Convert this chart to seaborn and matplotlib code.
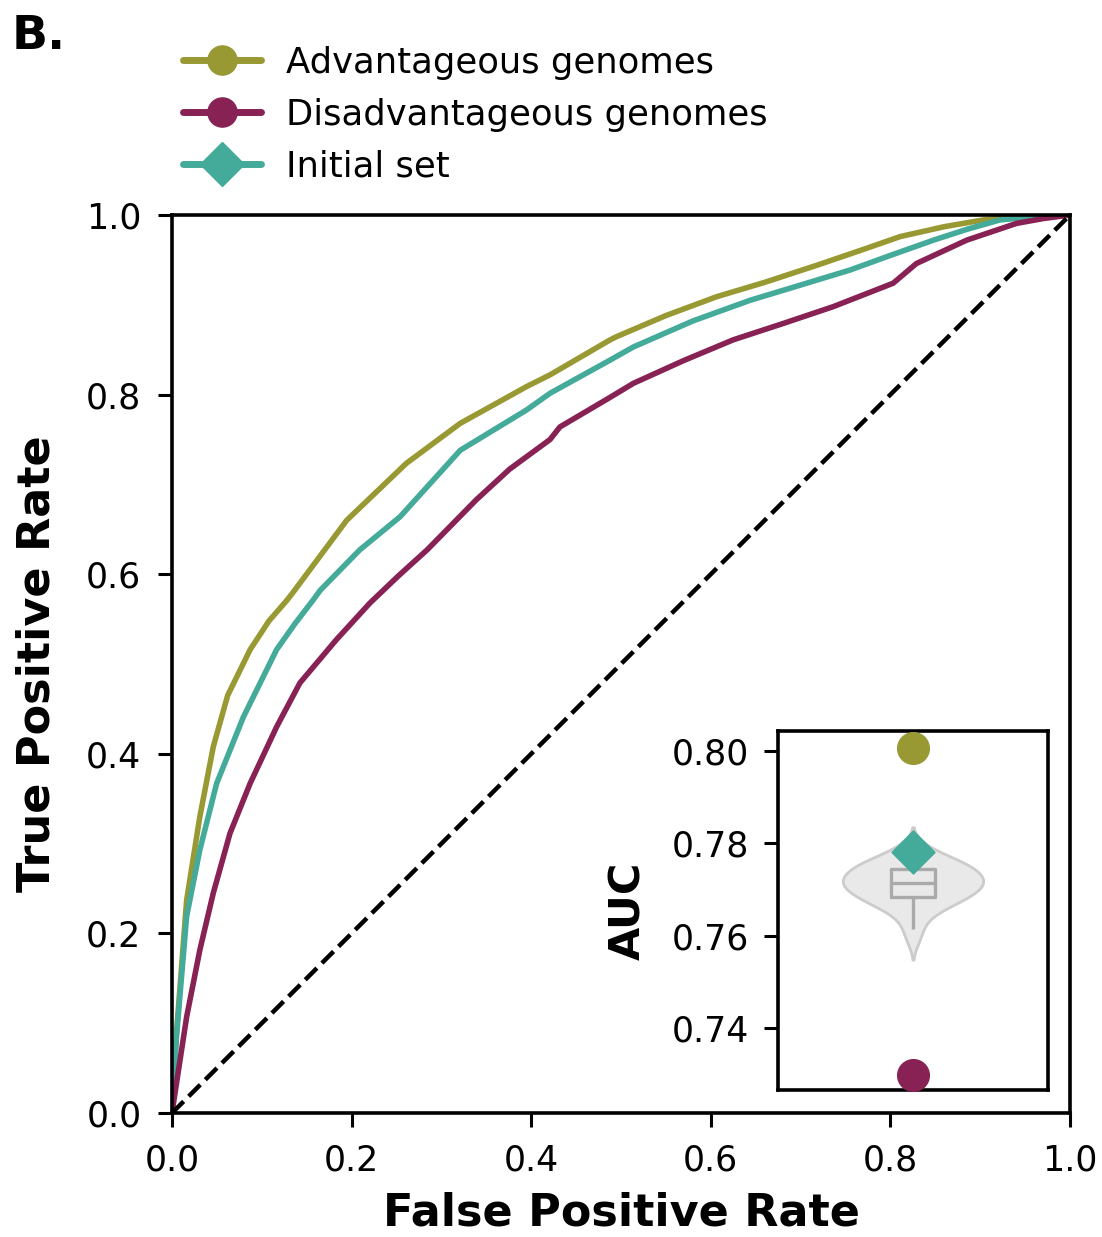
import matplotlib
matplotlib.use('Agg')
import matplotlib.pyplot as plt
from matplotlib.lines import Line2D
import seaborn as sns

# ROC curves
adv_fpr = [0.0, 0.005, 0.0163, 0.031, 0.046, 0.062, 0.087, 0.108, 0.128, 0.135, 0.1945, 0.261, 0.321, 0.395,
           0.421, 0.488, 0.495, 0.55, 0.6065, 0.66, 0.718, 0.765, 0.811, 0.86, 0.9035, 0.95, 1.0]
adv_tpr = [0.0, 0.089, 0.237, 0.330, 0.408, 0.465, 0.516, 0.548, 0.571, 0.580, 0.660, 0.7235, 0.768, 0.809,
           0.822, 0.861, 0.8645, 0.888, 0.909, 0.925, 0.944, 0.960, 0.976, 0.987, 0.9945, 0.999, 1.0]

init_fpr = [0.0, 0.005, 0.0163, 0.031, 0.0497, 0.0795, 0.1165, 0.137, 0.157, 0.165, 0.209, 0.254, 0.321,
            0.395, 0.421, 0.488, 0.5137, 0.58, 0.6437, 0.70, 0.755, 0.80, 0.848, 0.885, 0.922, 0.96, 1.0]
init_tpr = [0.0, 0.085, 0.219, 0.293, 0.367, 0.441, 0.516, 0.545, 0.571, 0.582, 0.627, 0.664, 0.738,
            0.783, 0.8015, 0.8385, 0.853, 0.882, 0.905, 0.922, 0.9387, 0.955, 0.972, 0.984, 0.9945, 0.998, 1.0]

dis_fpr = [0.0, 0.005, 0.0163, 0.031, 0.046, 0.0646, 0.087, 0.1165, 0.1425, 0.183, 0.2205, 0.252, 0.284,
           0.339, 0.376, 0.421, 0.432, 0.488, 0.5137, 0.57, 0.625, 0.68, 0.7365, 0.803, 0.829, 0.885,
           0.9406, 0.97, 1.0]
dis_tpr = [0.0, 0.033, 0.107, 0.1815, 0.245, 0.3115, 0.367, 0.430, 0.479, 0.527, 0.568, 0.598, 0.627,
           0.683, 0.717, 0.750, 0.764, 0.797, 0.8125, 0.838, 0.861, 0.879, 0.898, 0.924, 0.946, 0.972,
           0.9907, 0.996, 1.0]

# AUC values for the inset
auc_adv = 0.8007
auc_dis = 0.7298
auc_init = 0.7782
auc_random = [0.7591, 0.7615, 0.7635, 0.7648, 0.7658, 0.7665, 0.7670, 0.7674, 0.7678, 0.7681,
              0.7684, 0.7688, 0.7692, 0.7696, 0.7699, 0.7702, 0.7705, 0.7708, 0.7711, 0.7713,
              0.7715, 0.7718, 0.7720, 0.7723, 0.7726, 0.7729, 0.7732, 0.7736, 0.7739, 0.7743,
              0.7746, 0.7749, 0.7752, 0.7755, 0.7758, 0.7761, 0.7766, 0.7772, 0.7782, 0.7792]

labels = ['Advantageous genomes', 'Disadvantageous genomes', 'Initial set']
c_adv, c_dis, c_init = '#999933', '#882255', '#44AA99'

sns.set_style('ticks')
plt.rcParams['font.family'] = ['DejaVu Sans']
plt.rcParams.update({'text.color': 'black', 'axes.labelcolor': 'black',
                     'xtick.color': 'black', 'ytick.color': 'black', 'axes.edgecolor': 'black'})

fig = plt.figure(figsize=(11.02, 12.37), dpi=100)
ax = fig.add_axes([172 / 1102, 124 / 1237, 898 / 1102, 898 / 1237])

sns.lineplot(x=adv_fpr, y=adv_tpr, color=c_adv, linewidth=4, estimator=None, ax=ax)
sns.lineplot(x=init_fpr, y=init_tpr, color=c_init, linewidth=4, estimator=None, ax=ax)
sns.lineplot(x=dis_fpr, y=dis_tpr, color=c_dis, linewidth=4, estimator=None, ax=ax)
ax.plot([0, 1], [0, 1], color='black', linestyle='--', linewidth=3.2)

ax.set_xlim(0, 1)
ax.set_ylim(0, 1)
ax.set_xticks([0, 0.2, 0.4, 0.6, 0.8, 1.0])
ax.set_yticks([0, 0.2, 0.4, 0.6, 0.8, 1.0])
ax.tick_params(labelsize=25, width=2.2, length=10, pad=12)
for s in ax.spines.values():
    s.set_linewidth(2.6)
ax.set_xlabel('False Positive Rate', fontsize=32, fontweight='bold', labelpad=10)
ax.set_ylabel('True Positive Rate', fontsize=32, fontweight='bold', labelpad=20)

# inset with AUC distribution
ins = fig.add_axes([778 / 1102, 147 / 1237, 270 / 1102, 359 / 1237])
sns.violinplot(y=auc_random, ax=ins, color='#e9e9e9', linecolor='#cccccc', linewidth=2,
               inner=None, width=0.52)
sns.boxplot(y=auc_random, ax=ins, color='#aaaaaa', fill=False, showfliers=False, showcaps=False,
            width=0.16, linewidth=2.4)
ins.scatter([0], [auc_adv], s=520, color=c_adv, zorder=5, clip_on=False)
ins.scatter([0], [auc_dis], s=520, color=c_dis, zorder=5, clip_on=False)
ins.scatter([0], [auc_init], s=480, marker='D', color=c_init, zorder=5, clip_on=False)
ins.set_xlim(-0.5, 0.5)
ins.set_ylim(0.7266, 0.8043)
ins.set_yticks([0.74, 0.76, 0.78, 0.80])
ins.set_xticks([])
ins.tick_params(labelsize=25, width=2.2, length=10, pad=11)
for s in ins.spines.values():
    s.set_visible(True)
    s.set_linewidth(2.6)
ins.set_ylabel('AUC', fontsize=31, fontweight='bold', labelpad=16)

handles = [
    Line2D([], [], color=c_adv, marker='o', markersize=21, linewidth=5),
    Line2D([], [], color=c_dis, marker='o', markersize=21, linewidth=5),
    Line2D([], [], color=c_init, marker='D', markersize=22, linewidth=5),
]
fig.legend(handles, labels, loc='upper left', bbox_to_anchor=(151 / 1102, 1 - 14 / 1237),
           frameon=False, fontsize=25.5, handlelength=2.2, labelspacing=0.5, handletextpad=0.7)

fig.text(12 / 1102, 1 - 14 / 1237, 'B.', fontsize=34, fontweight='bold', va='top', ha='left')

fig.savefig('out.png', dpi=100)
